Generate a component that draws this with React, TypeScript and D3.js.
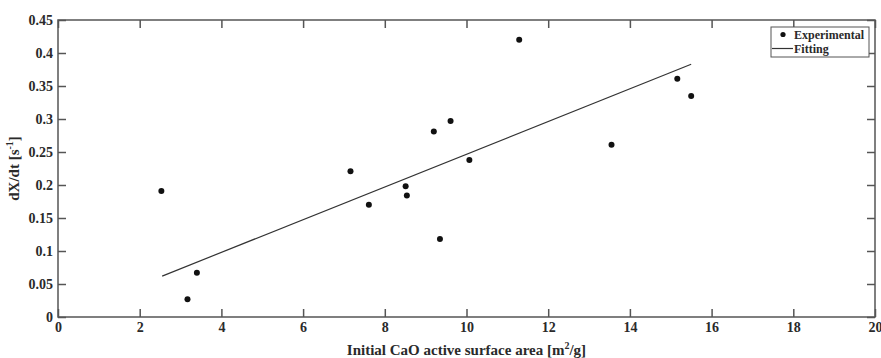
import { useEffect, useRef } from "react";
import * as d3 from "d3";

// experimental points
const surfaceArea = [2.53, 3.17, 3.40, 7.16, 7.61, 8.51, 8.54, 9.20, 9.35, 9.61, 10.07, 11.29, 13.55, 15.16, 15.50];
const rate = [0.191, 0.027, 0.067, 0.221, 0.170, 0.198, 0.184, 0.281, 0.118, 0.297, 0.238, 0.420, 0.261, 0.361, 0.335];

// linear fit end points
const fitX = [2.55, 15.5];
const fitY = [0.062, 0.383];

const xTicks = [0, 2, 4, 6, 8, 10, 12, 14, 16, 18, 20];
const yTicks = [0, 0.05, 0.1, 0.15, 0.2, 0.25, 0.3, 0.35, 0.4, 0.45];

const W = 881;
const H = 358;
const margin = { top: 20, right: 6, bottom: 41, left: 58 };
const FONT = "'Liberation Serif', 'Times New Roman', serif";
const TEXT = "#2a2a2a";
const AXIS = "#555";

export default function App() {
  const ref = useRef<SVGSVGElement>(null);

  useEffect(() => {
    const svg = d3.select(ref.current);
    svg.selectAll("*").remove();

    const iw = W - margin.left - margin.right;
    const ih = H - margin.top - margin.bottom;
    const x = d3.scaleLinear().domain([0, 20]).range([0, iw]);
    const y = d3.scaleLinear().domain([0, 0.45]).range([ih, 0]);

    const g = svg.append("g").attr("transform", `translate(${margin.left},${margin.top})`);

    // frame first, ticks on top of it
    g.append("rect")
      .attr("x", 0).attr("y", 0)
      .attr("width", iw).attr("height", ih)
      .attr("fill", "none").attr("stroke", AXIS).attr("stroke-width", 1.5);

    /**
     * Ticks point inwards on all four sides, like a matlab box plot.
     */
    const tl = -8;
    const fmt = (d: d3.NumberValue) => String(+d);
    const styleAxis = (sel: d3.Selection<SVGGElement, unknown, null, undefined>, labels: boolean) => {
      sel.select(".domain").remove();
      sel.selectAll("line").attr("stroke", AXIS).attr("stroke-width", 1.5);
      sel.selectAll("text")
        .attr("fill", TEXT)
        .attr("font-family", FONT)
        .attr("font-weight", 700)
        .attr("font-size", 14)
        .style("display", labels ? null : "none");
    };

    g.append("g").attr("transform", `translate(0,${ih})`)
      .call(d3.axisBottom(x).tickValues(xTicks).tickFormat(fmt).tickSize(tl).tickPadding(5))
      .call(s => styleAxis(s, true));
    g.append("g")
      .call(d3.axisTop(x).tickValues(xTicks).tickSize(tl))
      .call(s => styleAxis(s, false));
    g.append("g")
      .call(d3.axisLeft(y).tickValues(yTicks).tickFormat(fmt).tickSize(tl).tickPadding(5))
      .call(s => styleAxis(s, true));
    g.append("g").attr("transform", `translate(${iw},0)`)
      .call(d3.axisRight(y).tickValues(yTicks).tickSize(tl))
      .call(s => styleAxis(s, false));

    // fitting line
    const line = d3.line<number>().x(d => x(d)).y((_, i) => y(fitY[i]));
    g.append("path")
      .datum(fitX)
      .attr("d", line)
      .attr("fill", "none")
      .attr("stroke", "#333")
      .attr("stroke-width", 1.2);

    // experimental points
    g.selectAll(".pt")
      .data(surfaceArea)
      .join("circle")
      .attr("class", "pt")
      .attr("cx", d => x(d))
      .attr("cy", (_, i) => y(rate[i]))
      .attr("r", 3)
      .attr("fill", "#111");

    // legend
    const lg = svg.append("g").attr("transform", "translate(771,27)");
    lg.append("rect").attr("width", 98).attr("height", 30)
      .attr("fill", "white").attr("stroke", AXIS).attr("stroke-width", 1);
    lg.append("circle").attr("cx", 12).attr("cy", 7.5).attr("r", 2.6).attr("fill", "#111");
    lg.append("line").attr("x1", 1).attr("x2", 22).attr("y1", 21.5).attr("y2", 21.5)
      .attr("stroke", "#333").attr("stroke-width", 1.2);
    const legText = ["Experimental", "Fitting"];
    lg.selectAll(".lt").data(legText).join("text")
      .attr("class", "lt")
      .attr("x", 23)
      .attr("y", (_, i) => 11.5 + i * 14)
      .attr("font-family", FONT).attr("font-weight", 700).attr("font-size", 12)
      .attr("fill", TEXT)
      .text(d => d);

    // axis titles
    const xt = svg.append("text")
      .attr("x", margin.left + iw / 2).attr("y", 355)
      .attr("text-anchor", "middle")
      .attr("font-family", FONT).attr("font-weight", 700).attr("font-size", 15)
      .attr("fill", TEXT);
    xt.append("tspan").text("Initial CaO active surface area [m");
    xt.append("tspan").attr("dy", -6).attr("font-size", 10).text("2");
    xt.append("tspan").attr("dy", 6).text("/g]");

    const yt = svg.append("text")
      .attr("transform", `translate(19,${margin.top + ih / 2}) rotate(-90)`)
      .attr("text-anchor", "middle")
      .attr("font-family", FONT).attr("font-weight", 700).attr("font-size", 15)
      .attr("fill", TEXT);
    yt.append("tspan").text("dX/dt [s");
    yt.append("tspan").attr("dy", -6).attr("font-size", 10).text("-1");
    yt.append("tspan").attr("dy", 6).text("]");
  }, []);

  return (
    <div style={{ position: "absolute", left: 0, top: 0 }}>
      <svg ref={ref} width={W} height={H} style={{ display: "block", background: "white" }} />
    </div>
  );
}
